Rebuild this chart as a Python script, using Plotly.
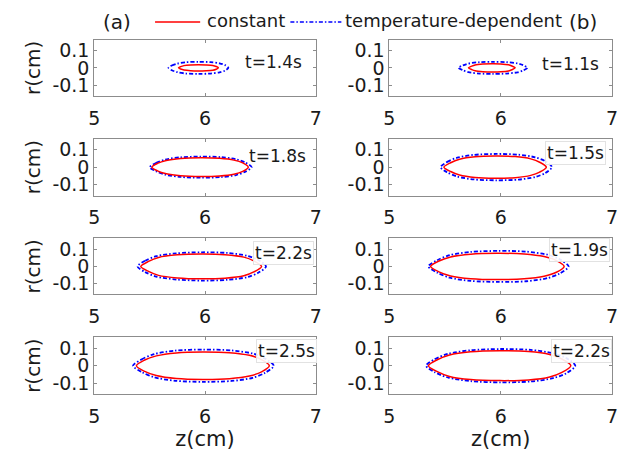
import plotly.graph_objects as go

# Panel labels and times
panel_times = ["t=1.4s", "t=1.1s", "t=1.8s", "t=1.5s", "t=2.2s", "t=1.9s", "t=2.5s", "t=2.2s"]
series_names = ["constant", "temperature-dependent"]
x_ticks = [5, 6, 7]
y_ticks = [-0.1, 0, 0.1]
y_tick_text = ["-0.1", "0", "0.1"]

# Upper half-profiles (z in cm, r in cm); the lower half is the mirror image
# Row 1
z_const_a1 = [5.76, 5.78, 5.81, 5.87, 5.94, 6.01, 6.07, 6.10, 6.12]
r_const_a1 = [0, .007, .013, .017, .018, .017, .014, .008, 0]
z_temp_a1 = [5.67, 5.70, 5.75, 5.83, 5.94, 6.05, 6.13, 6.18, 6.21]
r_temp_a1 = [0, .014, .025, .033, .035, .033, .026, .016, 0]
z_const_b1 = [5.71, 5.74, 5.77, 5.84, 5.92, 6.00, 6.07, 6.10, 6.13]
r_const_b1 = [0, .010, .017, .022, .024, .023, .018, .011, 0]
z_temp_b1 = [5.62, 5.66, 5.71, 5.81, 5.93, 6.05, 6.15, 6.20, 6.24]
r_temp_b1 = [0, .014, .025, .033, .035, .033, .026, .016, 0]
# Row 2
z_const_a2 = [5.52, 5.57, 5.65, 5.78, 5.96, 6.13, 6.26, 6.34, 6.39]
r_const_a2 = [0, .021, .038, .049, .053, .050, .040, .024, 0]
z_temp_a2 = [5.50, 5.56, 5.64, 5.78, 5.96, 6.14, 6.28, 6.36, 6.42]
r_temp_a2 = [0, .024, .043, .056, .060, .057, .045, .027, 0]
z_const_b2 = [5.49, 5.55, 5.63, 5.77, 5.95, 6.13, 6.27, 6.35, 6.41]
r_const_b2 = [0, .025, .045, .059, .063, .060, .047, .028, 0]
z_temp_b2 = [5.46, 5.52, 5.61, 5.76, 5.96, 6.16, 6.31, 6.40, 6.46]
r_temp_b2 = [0, .030, .054, .070, .075, .071, .056, .034, 0]
# Row 3
z_const_a3 = [5.42, 5.49, 5.58, 5.75, 5.97, 6.18, 6.35, 6.44, 6.51]
r_const_a3 = [0, .029, .052, .067, .072, .068, .054, .032, 0]
z_temp_a3 = [5.39, 5.46, 5.56, 5.74, 5.97, 6.20, 6.38, 6.48, 6.55]
r_temp_a3 = [0, .033, .059, .076, .082, .078, .062, .037, 0]
z_const_b3 = [5.37, 5.44, 5.55, 5.73, 5.97, 6.21, 6.39, 6.50, 6.57]
r_const_b3 = [0, .030, .055, .071, .076, .072, .057, .034, 0]
z_temp_b3 = [5.35, 5.43, 5.54, 5.73, 5.98, 6.23, 6.42, 6.53, 6.61]
r_temp_b3 = [0, .036, .065, .084, .090, .086, .068, .041, 0]
# Row 4
z_const_a4 = [5.38, 5.45, 5.56, 5.74, 5.98, 6.22, 6.40, 6.51, 6.58]
r_const_a4 = [0, .031, .056, .073, .078, .074, .059, .035, 0]
z_temp_a4 = [5.35, 5.43, 5.54, 5.73, 5.98, 6.24, 6.43, 6.54, 6.62]
r_temp_a4 = [0, .037, .066, .086, .092, .087, .069, .041, 0]
z_const_b4 = [5.35, 5.43, 5.54, 5.73, 5.99, 6.25, 6.44, 6.55, 6.63]
r_const_b4 = [0, .034, .061, .079, .085, .081, .064, .038, 0]
z_temp_b4 = [5.33, 5.41, 5.53, 5.73, 6.00, 6.27, 6.47, 6.59, 6.67]
r_temp_b4 = [0, .038, .068, .088, .095, .090, .071, .043, 0]

panels = [
    (z_const_a1, r_const_a1, z_temp_a1, r_temp_a1),
    (z_const_b1, r_const_b1, z_temp_b1, r_temp_b1),
    (z_const_a2, r_const_a2, z_temp_a2, r_temp_a2),
    (z_const_b2, r_const_b2, z_temp_b2, r_temp_b2),
    (z_const_a3, r_const_a3, z_temp_a3, r_temp_a3),
    (z_const_b3, r_const_b3, z_temp_b3, r_temp_b3),
    (z_const_a4, r_const_a4, z_temp_a4, r_temp_a4),
    (z_const_b4, r_const_b4, z_temp_b4, r_temp_b4),
]

W, H = 619, 455
FONT = "DejaVu Sans"
TXT = "#1a1a1a"
RED = "#ff0000"
BLUE = "#0000ff"
BLUE_DASH = "4px,2px,1.5px,2px"

def px_x(p):
    return p / W

def px_y(p):
    return 1 - p / H

col_dom = [(px_x(90), px_x(316)), (px_x(391), px_x(618))]
row_px = [(39, 95), (138, 195), (238, 294), (337, 394)]
row_dom = [(px_y(b), px_y(t)) for t, b in row_px]

def closed(z, r):
    zc = list(z) + list(z[::-1])[1:]
    rc = list(r) + [-v for v in r[::-1]][1:]
    return zc, rc

fig = go.Figure()
layout = {}
for i, (zc, rc, zt, rt) in enumerate(panels):
    k = i + 1
    row, col = i // 2, i % 2
    xs = "x" if k == 1 else f"x{k}"
    ys = "y" if k == 1 else f"y{k}"
    z1, r1 = closed(zc, rc)
    z2, r2 = closed(zt, rt)
    fig.add_trace(go.Scatter(x=z2, y=r2, mode="lines", name=series_names[1],
                             line=dict(color=BLUE, width=1.8, dash=BLUE_DASH, shape="spline", smoothing=0.8),
                             xaxis=xs, yaxis=ys, showlegend=False))
    fig.add_trace(go.Scatter(x=z1, y=r1, mode="lines", name=series_names[0],
                             line=dict(color=RED, width=1.5, shape="spline", smoothing=0.8),
                             xaxis=xs, yaxis=ys, showlegend=False))
    axis_common = dict(showgrid=False, zeroline=False, showline=True, mirror="ticks",
                       linecolor="#8c8c8c", linewidth=1, ticks="inside", ticklen=3,
                       tickcolor="#8c8c8c", tickfont=dict(family=FONT, size=19, color=TXT))
    layout["xaxis" if k == 1 else f"xaxis{k}"] = dict(
        domain=col_dom[col], range=[5, 7], tickvals=x_ticks, anchor=ys, ticklabelstandoff=5,
        title=dict(text="z(cm)", font=dict(family=FONT, size=21, color=TXT), standoff=0) if row == 3 else None,
        **axis_common)
    layout["yaxis" if k == 1 else f"yaxis{k}"] = dict(
        domain=row_dom[row], range=[-0.162, 0.162], tickvals=y_ticks, ticktext=y_tick_text, anchor=xs,
        title=dict(text="r(cm)", font=dict(family=FONT, size=20, color=TXT), standoff=6) if col == 0 else None,
        **axis_common)

fig.update_layout(**layout)

# time labels
t_pos = [(273, 61), (576, 63), (277, 155), (581, 152), (283, 253), (585, 250), (286, 351), (587, 351)]
boxed = [False, False, False, True, True, True, True, True]
annotations = []
for txt, (x, y), b in zip(panel_times, t_pos, boxed):
    annotations.append(dict(text=txt, x=px_x(x), y=px_y(y), xref="paper", yref="paper",
                            xanchor="center", yanchor="middle", showarrow=False,
                            font=dict(family=FONT, size=17, color=TXT),
                            bgcolor="rgba(255,255,255,0.9)" if b else None,
                            bordercolor="#e2e2e2" if b else None, borderwidth=1 if b else 0, borderpad=1))
for lab, x in [("(a)", 113), ("(b)", 588)]:
    annotations.append(dict(text=lab, x=px_x(x), y=px_y(21), xref="paper", yref="paper",
                            xanchor="center", yanchor="middle", showarrow=False,
                            font=dict(family=FONT, size=20, color=TXT)))

# legend (drawn as key lines + labels)
LEG_Y = 21
legend_items = [(series_names[0], RED, "solid", 152, 198, 203),
                (series_names[1], BLUE, BLUE_DASH, 290, 342, 344)]
shapes = []
for name, color, dash, x0, x1, xt in legend_items:
    shapes.append(dict(type="line", xref="paper", yref="paper",
                       x0=px_x(x0), x1=px_x(x1), y0=px_y(LEG_Y), y1=px_y(LEG_Y),
                       line=dict(color=color, width=1.5, dash=dash)))
    annotations.append(dict(text=name, x=px_x(xt), y=px_y(LEG_Y - 1), xref="paper", yref="paper",
                            xanchor="left", yanchor="middle", showarrow=False,
                            font=dict(family=FONT, size=18, color=TXT)))

fig.update_layout(
    width=W, height=H, margin=dict(l=0, r=0, t=0, b=0),
    paper_bgcolor="white", plot_bgcolor="white",
    annotations=annotations, shapes=shapes, showlegend=False,
)
fig.write_html("out.html", config={"displayModeBar": False},
               post_script="document.body.style.margin='0';document.body.style.overflow='hidden';")
